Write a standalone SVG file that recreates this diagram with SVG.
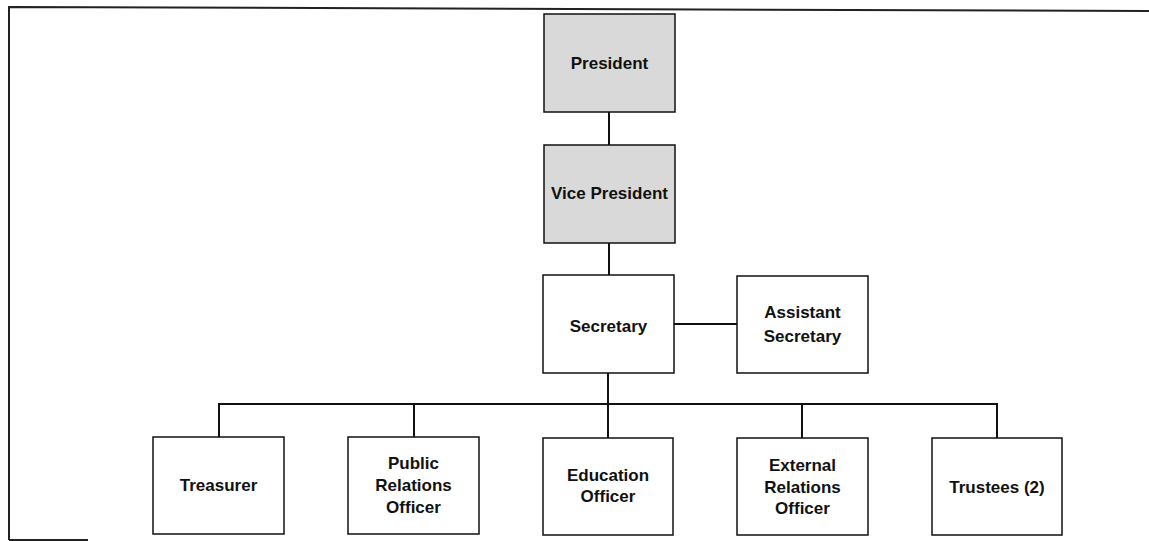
<svg xmlns="http://www.w3.org/2000/svg" width="1149" height="541" viewBox="0 0 1149 541">
<style>
.box{fill:#fff;stroke:#111;stroke-width:1.5}
.shaded{fill:#d9d9d9;stroke:#111;stroke-width:1.5}
.lbl{font-family:"Liberation Sans",Arial,sans-serif;font-weight:bold;font-size:17px;fill:#111;text-anchor:middle}
.conn{stroke:#111;stroke-width:2;fill:none}
.frame{stroke:#222;stroke-width:2;fill:none}
</style>
<rect width="1149" height="541" fill="#fff"/>
<g id="frame">
<path class="frame" d="M9,540 L9,7 L1149,11"/>
<path class="frame" d="M9,540 L88,540"/>
</g>
<g id="connectors">
<line class="conn" x1="609" y1="112" x2="609" y2="145"/>
<line class="conn" x1="609" y1="243" x2="609" y2="275"/>
<line class="conn" x1="674" y1="324" x2="737" y2="324"/>
<line class="conn" x1="608" y1="373" x2="608" y2="404"/>
<path class="conn" d="M219,437 L219,404 L997,404 L997,438"/>
<line class="conn" x1="414" y1="404" x2="414" y2="437"/>
<line class="conn" x1="608" y1="404" x2="608" y2="438"/>
<line class="conn" x1="802" y1="404" x2="802" y2="438"/>
</g>
<g id="president">
<rect class="shaded" x="544" y="14" width="131" height="98"/>
<text class="lbl" x="609.5" y="69">President</text>
</g>
<g id="vice-president">
<rect class="shaded" x="544" y="145" width="131" height="98"/>
<text class="lbl" x="609.5" y="199">Vice President</text>
</g>
<g id="secretary">
<rect class="box" x="543" y="275" width="131" height="98"/>
<text class="lbl" x="608.5" y="332">Secretary</text>
</g>
<g id="assistant-secretary">
<rect class="box" x="737" y="276" width="131" height="97"/>
<text class="lbl" x="802.5" y="318">Assistant</text>
<text class="lbl" x="802.5" y="342">Secretary</text>
</g>
<g id="treasurer">
<rect class="box" x="153" y="437" width="131" height="97"/>
<text class="lbl" x="218.5" y="491">Treasurer</text>
</g>
<g id="public-relations-officer">
<rect class="box" x="348" y="437" width="131" height="97"/>
<text class="lbl" x="413.5" y="469">Public</text>
<text class="lbl" x="413.5" y="491">Relations</text>
<text class="lbl" x="413.5" y="513">Officer</text>
</g>
<g id="education-officer">
<rect class="box" x="543" y="438" width="130" height="97"/>
<text class="lbl" x="608" y="481">Education</text>
<text class="lbl" x="608" y="502">Officer</text>
</g>
<g id="external-relations-officer">
<rect class="box" x="737" y="438" width="131" height="97"/>
<text class="lbl" x="802.5" y="471">External</text>
<text class="lbl" x="802.5" y="493">Relations</text>
<text class="lbl" x="802.5" y="514">Officer</text>
</g>
<g id="trustees">
<rect class="box" x="932" y="438" width="130" height="97"/>
<text class="lbl" x="997" y="493">Trustees (2)</text>
</g>
</svg>
